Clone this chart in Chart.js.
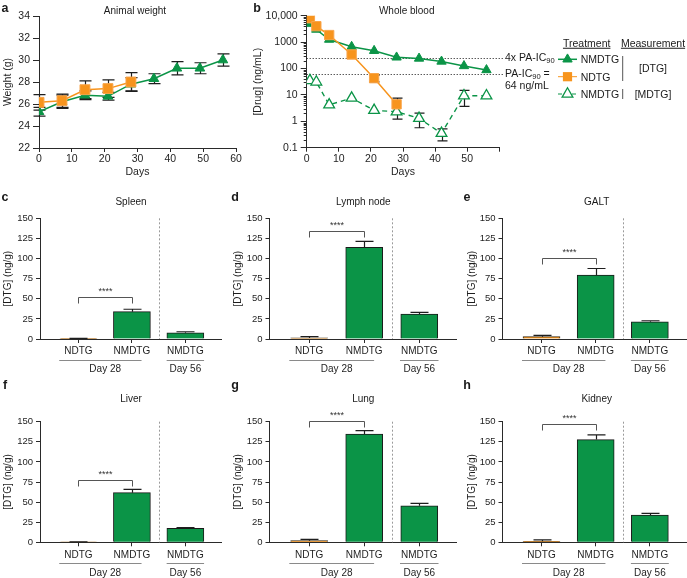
<!DOCTYPE html>
<html><head><meta charset="utf-8">
<script src="https://cdn.jsdelivr.net/npm/chart.js@4/dist/chart.umd.min.js"></script>
<style>
html,body{margin:0;padding:0;background:#fff}
body{width:687px;height:578px;position:relative;overflow:hidden;font-family:"Liberation Sans",Arial,Helvetica,sans-serif}
canvas{position:absolute}
.lbl{position:absolute;line-height:1;white-space:nowrap;color:#1a1a1a;font-family:"Liberation Sans",Arial,Helvetica,sans-serif}
.lbl sub{font-size:0.72em;vertical-align:-0.25em;line-height:0}
</style></head>
<body>
<script>
// ---------------- DATA ----------------
// Panel a: animal weight (g)
const weightDaysNMDTG = [0, 7, 14, 21, 28, 35, 42, 49, 56];
const weightNMDTG     = [25.3, 26.2, 26.8, 26.7, 27.8, 28.3, 29.25, 29.25, 30.0];
const weightNMDTGErr  = [0.4, 0.6, 0.4, 0.35, 0.6, 0.45, 0.6, 0.5, 0.55];
const weightDaysNDTG  = [0, 7, 14, 21, 28];
const weightNDTG      = [26.15, 26.3, 27.3, 27.4, 28.0];
const weightNDTGErr   = [0.7, 0.6, 0.8, 0.8, 0.85];

// Panel b: whole blood drug concentration (ng/mL)
const bloodDays       = [1, 3, 7, 14, 21, 28, 35, 42, 49, 56];
const bloodNMDTG_DTG  = [5000, 3000, 1250, 670, 470, 265, 240, 185, 125, 88];
const bloodNMDTG_MDTG = [35, 31, 4.2, 7.6, 2.6, 2.3, 1.3, 0.35, 9.3, 9.3];
const bloodMDTGErr    = [0, 0, 0, 0, 0, 0, 0.73, 0.17, 5.6, 0];
const bloodDaysNDTG   = [1, 3, 7, 14, 21, 28];
const bloodNDTG_DTG   = [8000, 4000, 1850, 340, 43, 4.4];
const bloodNDTGErr    = [0, 0, 0, 0, 12, 3.2];
const icLines         = [256, 64];
const bloodTickValues = [0.1, 1, 10, 100, 1000, 10000];
const bloodTickLabels = ['0.1', '1', '10', '100', '1000', '10,000'];

// Panels c-h: tissue DTG (ng/g); order NDTG d28, NMDTG d28, NMDTG d56
const barGroups   = ['NDTG', 'NMDTG', 'NMDTG'];
const dayGroups   = ['Day 28', 'Day 56'];
const tissues     = ['Spleen', 'Lymph node', 'GALT', 'Liver', 'Lung', 'Kidney'];
const spleenDTG   = [0.5, 34, 7.8];    const spleenErr = [0.3, 3, 1.2];
const lymphDTG    = [1.3, 114, 31];    const lymphErr  = [1.6, 7.4, 2];
const galtDTG     = [2.9, 79.3, 21.4]; const galtErr   = [1.7, 8.3, 1.3];
const liverDTG    = [0.3, 61.7, 17.4]; const liverErr  = [0.3, 4.1, 0.8];
const lungDTG     = [2, 134.7, 45.5];  const lungErr   = [1.7, 4.1, 3];
const kidneyDTG   = [1.2, 127.8, 34];  const kidneyErr = [1.8, 5.8, 2];
const sigLevels   = [52, 134, 101, 77.5, 151, 147];  // height of the **** bracket
const sigText     = '****';

// ---------------- STYLE ----------------
const GREEN = '#0b9447', ORANGE = '#f7941d', INK = '#1e1e1e', AXIS = '#2a2a2a';
const FONT = '"Liberation Sans", Arial, Helvetica, sans-serif';
Chart.defaults.font.family = FONT;
Chart.defaults.color = INK;
Chart.defaults.animation = false;
Chart.defaults.responsive = false;
Chart.defaults.devicePixelRatio = 1;
Chart.defaults.plugins.legend.display = false;
Chart.defaults.plugins.tooltip.enabled = false;

function makeCanvas(left, top, w, h) {
  const c = document.createElement('canvas');
  c.width = w; c.height = h;
  c.style.left = left + 'px'; c.style.top = top + 'px';
  c.style.width = w + 'px'; c.style.height = h + 'px';
  document.body.appendChild(c);
  return c;
}
function label(html, x, y, size, o = {}) {
  const d = document.createElement('div');
  d.className = 'lbl';
  d.innerHTML = html;
  d.style.left = x + 'px'; d.style.top = y + 'px'; d.style.fontSize = size + 'px';
  if (o.bold) d.style.fontWeight = 'bold';
  if (o.underline) d.style.textDecoration = 'underline';
  d.style.transform = o.left ? 'translate(0,-50%)' : 'translate(-50%,-50%)';
  document.body.appendChild(d);
}
function errBars(chart, xs, ys, errs, cap, both) {
  const ctx = chart.ctx, xS = chart.scales.x, yS = chart.scales.y;
  ctx.save(); ctx.strokeStyle = INK; ctx.lineWidth = 1.2;
  xs.forEach((xv, i) => {
    const e = errs[i]; if (!e) return;
    const px = Math.round(xS.getPixelForValue(xv)) + 0.5;
    const top = yS.getPixelForValue(ys[i] + e);
    let low = both ? ys[i] - e : ys[i];
    if (yS.type === 'logarithmic' && low <= 0) low = yS.min;
    const bot = yS.getPixelForValue(low);
    ctx.beginPath();
    ctx.moveTo(px, top); ctx.lineTo(px, bot);
    ctx.moveTo(px - cap / 2, top); ctx.lineTo(px + cap / 2, top);
    if (both) { ctx.moveTo(px - cap / 2, bot); ctx.lineTo(px + cap / 2, bot); }
    ctx.stroke();
  });
  ctx.restore();
}
function axisCommon(tickLen) {
  return {
    grid: { drawOnChartArea: false, drawTicks: true, tickLength: tickLen, color: AXIS, lineWidth: 1 },
    border: { display: true, color: AXIS, width: 1 }
  };
}

// ---------------- PANEL a ----------------
(function () {
  const cv = makeCanvas(0, 0, 250, 180);
  new Chart(cv, {
    type: 'line',
    data: { datasets: [
      { data: weightDaysNDTG.map((d, i) => ({ x: d, y: weightNDTG[i] })), borderColor: ORANGE, backgroundColor: ORANGE,
        pointBorderColor: '#f9a54a', pointStyle: 'rect', pointRadius: 7, pointBorderWidth: 1, borderWidth: 1.5 },
      { data: weightDaysNMDTG.map((d, i) => ({ x: d, y: weightNMDTG[i] })), borderColor: GREEN, backgroundColor: GREEN,
        pointStyle: 'triangle', pointRadius: 5.6, pointBorderWidth: 1, borderWidth: 1.5 }
    ]},
    options: {
      layout: { padding: { left: 0, top: 16, right: 14, bottom: 0 } },
      scales: {
        x: Object.assign(axisCommon(4), { type: 'linear', min: 0, max: 60,
          ticks: { stepSize: 10, padding: 1, font: { size: 10.5 }, color: INK },
          title: { display: true, text: 'Days', font: { size: 10.5 }, padding: { top: 0, bottom: 2 }, color: INK },
          afterFit: s => { s.height = 32; } }),
        y: Object.assign(axisCommon(6), { min: 22, max: 34,
          ticks: { stepSize: 2, padding: 3, font: { size: 10.5 }, color: INK },
          title: { display: true, text: 'Weight (g)', font: { size: 10.5 }, padding: { top: 1.7, bottom: 0 }, color: INK },
          afterFit: s => { s.width = 39; } })
      }
    },
    plugins: [{ id: 'errA', beforeDatasetsDraw(chart) {
      errBars(chart, weightDaysNMDTG, weightNMDTG, weightNMDTGErr, 12, true);
      errBars(chart, weightDaysNDTG, weightNDTG, weightNDTGErr, 12, true);
    } }]
  });
  label('a', 5, 8, 12.5, { bold: true });
  label('Animal weight', 135, 11, 10);
})();

// ---------------- PANEL b ----------------
(function () {
  const L = 240;
  const cv = makeCanvas(L, 0, 447, 180);
  new Chart(cv, {
    type: 'line',
    data: { datasets: [
      { data: bloodDaysNDTG.map((d, i) => ({ x: d, y: bloodNDTG_DTG[i] })), borderColor: ORANGE, backgroundColor: ORANGE,
        pointBorderColor: '#f9a54a', pointStyle: 'rect', pointRadius: 6.6, pointBorderWidth: 1, borderWidth: 1.5 },
      { data: bloodDays.map((d, i) => ({ x: d, y: bloodNMDTG_DTG[i] })), borderColor: GREEN, backgroundColor: GREEN,
        pointStyle: 'triangle', pointRadius: 5.4, pointBorderWidth: 1, borderWidth: 1.5 },
      { data: bloodDays.map((d, i) => ({ x: d, y: bloodNMDTG_MDTG[i] })), borderColor: GREEN, backgroundColor: '#ffffff',
        pointBackgroundColor: '#ffffff', pointBorderColor: GREEN, borderDash: [5, 4],
        pointStyle: 'triangle', pointRadius: 6.2, pointBorderWidth: 1.3, borderWidth: 1.4 }
    ]},
    options: {
      layout: { padding: { left: 0, top: 15.7, right: 187.7, bottom: 0 } },
      scales: {
        x: Object.assign(axisCommon(4), { type: 'linear', min: 0, max: 60,
          ticks: { stepSize: 10, padding: 1, font: { size: 10.5 }, color: INK, callback: v => (v === 60 ? '' : v) },
          title: { display: true, text: 'Days', font: { size: 10.5 }, padding: { top: 0, bottom: 2 }, color: INK },
          afterFit: s => { s.height = 32.3; } }),
        y: Object.assign(axisCommon(6), { type: 'logarithmic', min: 0.1, max: 10000,
          afterBuildTicks: s => { s.ticks = bloodTickValues.map(v => ({ value: v, major: true })); },
          ticks: { padding: 3, font: { size: 10.5 }, color: INK,
            callback: v => bloodTickLabels[bloodTickValues.indexOf(v)] },
          title: { display: true, text: '[Drug] (ng/mL)', font: { size: 10.5 }, padding: { top: 12, bottom: 0 }, color: INK },
          afterFit: s => { s.width = 66.7; } })
      }
    },
    plugins: [{ id: 'extrasB',
      beforeDatasetsDraw(chart) {
        const ctx = chart.ctx, yS = chart.scales.y, a = chart.chartArea;
        // minor log ticks
        ctx.save(); ctx.strokeStyle = AXIS; ctx.lineWidth = 1;
        for (let d = 0.1; d < 10000; d *= 10) {
          for (let k = 2; k <= 9; k++) {
            const py = Math.round(yS.getPixelForValue(k * d)) + 0.5;
            ctx.beginPath(); ctx.moveTo(a.left - 3, py); ctx.lineTo(a.left, py); ctx.stroke();
          }
        }
        // dotted reference lines
        ctx.strokeStyle = '#111'; ctx.setLineDash([1, 2]);
        icLines.forEach(v => {
          const py = Math.round(yS.getPixelForValue(v)) + 0.5;
          ctx.beginPath(); ctx.moveTo(a.left, py); ctx.lineTo(503 - L, py); ctx.stroke();
        });
        ctx.restore();
        errBars(chart, bloodDaysNDTG, bloodNDTG_DTG, bloodNDTGErr, 10, true);
        errBars(chart, bloodDays, bloodNMDTG_MDTG, bloodMDTGErr, 10, true);
      },
      afterDraw(chart) {
        const ctx = chart.ctx;
        ctx.save();
        const lx0 = 558 - L, lx1 = 577 - L, mx = 567.5 - L;
        const rows = [59.3, 76.7, 94];
        ctx.strokeStyle = GREEN; ctx.lineWidth = 1.5;
        ctx.beginPath(); ctx.moveTo(lx0, rows[0]); ctx.lineTo(lx1, rows[0]); ctx.stroke();
        tri(ctx, mx, rows[0], 5.4, GREEN, GREEN, 1);
        ctx.strokeStyle = ORANGE;
        ctx.beginPath(); ctx.moveTo(lx0, rows[1]); ctx.lineTo(lx1, rows[1]); ctx.stroke();
        ctx.fillStyle = ORANGE; ctx.fillRect(mx - 4.6, rows[1] - 4.6, 9.2, 9.2);
        ctx.strokeStyle = GREEN; ctx.setLineDash([4, 3]);
        ctx.beginPath(); ctx.moveTo(lx0, rows[2]); ctx.lineTo(lx1, rows[2]); ctx.stroke();
        ctx.setLineDash([]);
        tri(ctx, mx, rows[2], 6.2, '#fff', GREEN, 1.3);
        ctx.strokeStyle = '#555'; ctx.lineWidth = 1;
        ctx.beginPath(); ctx.moveTo(622.7 - L, 56); ctx.lineTo(622.7 - L, 81); ctx.stroke();
        ctx.beginPath(); ctx.moveTo(622.7 - L, 89); ctx.lineTo(622.7 - L, 99); ctx.stroke();
        ctx.restore();
      }
    }]
  });
  function tri(ctx, x, y, r, fill, stroke, lw) {
    ctx.beginPath();
    ctx.moveTo(x, y - r);
    ctx.lineTo(x + r * 0.866, y + r / 2);
    ctx.lineTo(x - r * 0.866, y + r / 2);
    ctx.closePath();
    ctx.fillStyle = fill; ctx.fill();
    ctx.strokeStyle = stroke; ctx.lineWidth = lw; ctx.stroke();
  }
  label('b', 257, 8, 12.5, { bold: true });
  label('Whole blood', 406.7, 11, 10);
  label('4x PA-IC<sub>90</sub>', 505, 57.3, 10.5, { left: true });
  label('PA-IC<sub>90</sub> =', 505, 73.3, 10.5, { left: true });
  label('64 ng/mL', 505, 84.8, 10.5, { left: true });
  label('Treatment', 586.7, 43, 10.5, { underline: true });
  label('Measurement', 653, 43, 10.5, { underline: true });
  label('NMDTG', 580.7, 59.3, 10.5, { left: true });
  label('NDTG', 580.7, 76.7, 10.5, { left: true });
  label('NMDTG', 580.7, 94, 10.5, { left: true });
  label('[DTG]', 653, 68, 10.5);
  label('[MDTG]', 653, 94, 10.5);
})();

// ---------------- PANELS c-h ----------------
const barSets = [
  [spleenDTG, spleenErr], [lymphDTG, lymphErr], [galtDTG, galtErr],
  [liverDTG, liverErr], [lungDTG, lungErr], [kidneyDTG, kidneyErr]
];
const cols = [
  { left: 0,   w: 230, axisL: 40,   axisR: 221.7, yTitle: 8.3,  letterX: 5,   titleX: 131 },
  { left: 230, w: 230, axisL: 39.5, axisR: 226.7, yTitle: 8.3,  letterX: 235, titleX: 363.3 },
  { left: 460, w: 227, axisL: 42.5, axisR: 226.7, yTitle: 12.7, letterX: 467, titleX: 596.7 }
];
const rowsG = [
  { top: 185, h: 192, chartTop: 33.3, chartBottom: 154,   letterY: 197, titleY: 201.5 },
  { top: 389, h: 189, chartTop: 32.7, chartBottom: 153.3, letterY: 385, titleY: 399 }
];
const letters = ['c', 'd', 'e', 'f', 'g', 'h'];

barSets.forEach(([vals, errs], idx) => {
  const col = cols[idx % 3], row = rowsG[Math.floor(idx / 3)];
  const cv = makeCanvas(col.left, row.top, col.w, row.h);
  new Chart(cv, {
    type: 'bar',
    data: { datasets: [{
      data: vals.map((v, i) => ({ x: i, y: v })),
      backgroundColor: [ORANGE, GREEN, GREEN],
      borderColor: ['#3a2a10', '#1a1a1a', '#1a1a1a'],
      borderWidth: 1, barThickness: 37
    }]},
    options: {
      layout: { padding: { left: 0, top: row.chartTop, right: col.w - col.axisR, bottom: 0 } },
      scales: {
        x: Object.assign(axisCommon(4), { type: 'linear', min: -0.72, max: 2.68, offset: false,
          grid: { drawOnChartArea: false, drawTicks: true, tickLength: 4, color: AXIS, offset: false },
          afterBuildTicks: s => { s.ticks = barGroups.map((g, i) => ({ value: i })); },
          ticks: { padding: 2.7, font: { size: 10 }, color: INK, autoSkip: false, maxRotation: 0,
            callback: v => barGroups[v] },
          afterFit: s => { s.height = row.h - row.chartBottom; } }),
        y: Object.assign(axisCommon(4), { min: 0, max: 150,
          ticks: { stepSize: 25, padding: 3, font: { size: 9.5 }, color: INK },
          title: { display: true, text: '[DTG] (ng/g)', font: { size: 10 }, padding: { top: col.yTitle - 6, bottom: 0 }, color: INK },
          afterFit: s => { s.width = col.axisL; } })
      }
    },
    plugins: [{ id: 'extrasBar', afterDraw(chart) {
      const ctx = chart.ctx, xS = chart.scales.x, yS = chart.scales.y, a = chart.chartArea;
      errBars(chart, [0, 1, 2], vals, errs, 18, false);
      ctx.save();
      ctx.strokeStyle = '#9a9a9a'; ctx.lineWidth = 1; ctx.setLineDash([2, 2]);
      const sx = Math.round(xS.getPixelForValue(1.5)) + 0.5;
      ctx.beginPath(); ctx.moveTo(sx, a.top); ctx.lineTo(sx, a.bottom); ctx.stroke();
      ctx.setLineDash([]);
      const by = Math.round(yS.getPixelForValue(sigLevels[idx])) + 0.5;
      const x0 = Math.round(xS.getPixelForValue(0)) + 0.5, x1 = Math.round(xS.getPixelForValue(1)) + 0.5;
      ctx.strokeStyle = '#555';
      ctx.beginPath(); ctx.moveTo(x0, by + 6); ctx.lineTo(x0, by); ctx.lineTo(x1, by); ctx.lineTo(x1, by + 6); ctx.stroke();
      ctx.fillStyle = '#333'; ctx.font = '9px ' + FONT; ctx.textAlign = 'center'; ctx.textBaseline = 'middle';
      ctx.fillText(sigText, (x0 + x1) / 2, by - 5.5);
      const uy = Math.round(a.bottom + 20.5) + 0.5;
      ctx.strokeStyle = '#8a8a8a';
      ctx.beginPath();
      ctx.moveTo(xS.getPixelForValue(-0.36), uy); ctx.lineTo(xS.getPixelForValue(1.18), uy);
      ctx.moveTo(xS.getPixelForValue(1.65), uy); ctx.lineTo(xS.getPixelForValue(2.35), uy);
      ctx.stroke();
      ctx.fillStyle = INK; ctx.font = '10px ' + FONT;
      ctx.fillText(dayGroups[0], xS.getPixelForValue(0.5), a.bottom + 30.5);
      ctx.fillText(dayGroups[1], xS.getPixelForValue(2), a.bottom + 30.5);
      ctx.restore();
    } }]
  });
  label(letters[idx], col.letterX, row.letterY, 12.5, { bold: true });
  label(tissues[idx], col.titleX, row.titleY, 10);
});
</script>
</body></html>
